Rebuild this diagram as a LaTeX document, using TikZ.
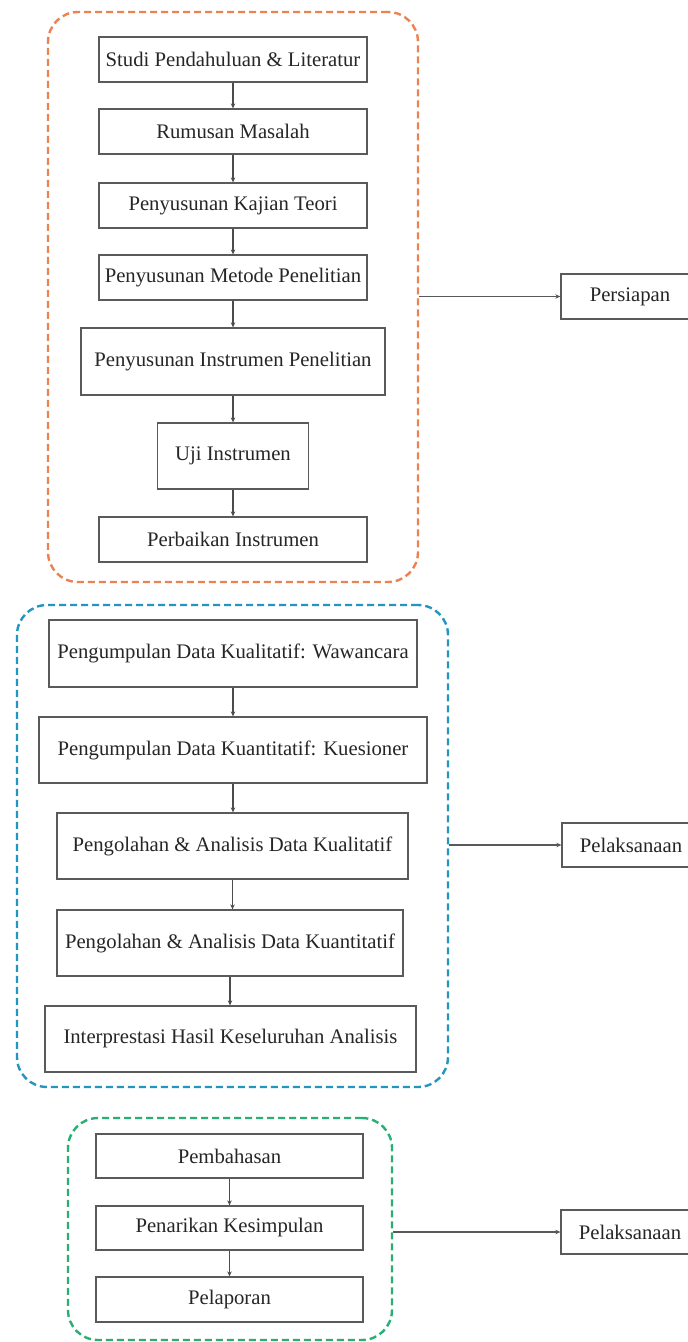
\documentclass[tikz,border=0pt]{standalone}
\usepackage{fontspec}
\setmainfont{Liberation Serif}
\usetikzlibrary{arrows.meta}
\definecolor{frOrange}{RGB}{236,130,80}
\definecolor{frBlue}{RGB}{34,150,190}
\definecolor{frGreen}{RGB}{40,175,115}
\definecolor{boxGray}{RGB}{90,90,90}
\begin{document}
\begin{tikzpicture}[x=1pt,y=-1pt,
  stepbox/.style={draw=boxGray,line width=1.3pt,inner sep=0pt,align=center,
    font=\fontsize{20.7}{24}\selectfont,text=black!85},
  frame/.style={dashed,line width=2.4pt,dash pattern=on 7pt off 4pt,rounded corners=30pt,inner sep=0pt},
  conn/.style={draw=black!70,line width=1.4pt,-{Stealth[length=5pt,width=4.5pt]}},
  link/.style={draw=black!65,line width=1.6pt,-{Stealth[length=5pt,width=4.5pt]}}]
\useasboundingbox (0,0) rectangle (688,1342);
\fill[white] (0,0) rectangle (688,1342);
% Persiapan group
\node[frame,draw=frOrange,minimum width=370pt,minimum height=570pt] (gA) at (233,297) {};
\node[stepbox,minimum width=268pt,minimum height=45pt] (s1) at (233,59.5) {Studi Pendahuluan \& Literatur};
\node[stepbox,minimum width=268pt,minimum height=45pt] (s2) at (233,131.5) {Rumusan Masalah};
\node[stepbox,minimum width=268pt,minimum height=45pt] (s3) at (233,205.5) {Penyusunan Kajian Teori};
\node[stepbox,minimum width=268pt,minimum height=45pt] (s4) at (233,277.5) {Penyusunan Metode Penelitian};
\node[stepbox,minimum width=304pt,minimum height=67pt] (s5) at (233,361.5) {Penyusunan Instrumen Penelitian};
\node[stepbox,minimum width=151pt,minimum height=66pt] (s6) at (233,456) {Uji Instrumen};
\node[stepbox,minimum width=268pt,minimum height=45pt] (s7) at (233,539.5) {Perbaikan Instrumen};
\node[stepbox,minimum width=138pt,minimum height=45pt] (pA) at (630,296.5) {Persiapan};
\foreach \a/\b in {s1/s2,s2/s3,s3/s4,s4/s5,s5/s6,s6/s7} \draw[conn] (\a.south) -- (\a.south |- \b.north);
\draw[link] (pA.west -| gA.east) -- (pA.west);
% Pelaksanaan group
\node[frame,draw=frBlue,minimum width=431pt,minimum height=482pt] (gB) at (232.5,846) {};
\node[stepbox,minimum width=368pt,minimum height=67pt] (b1) at (233,653.5) {Pengumpulan Data Kualitatif: Wawancara};
\node[stepbox,minimum width=388pt,minimum height=66pt] (b2) at (233,750) {Pengumpulan Data Kuantitatif: Kuesioner};
\node[stepbox,minimum width=351pt,minimum height=66pt] (b3) at (232.5,846) {Pengolahan \& Analisis Data Kualitatif};
\node[stepbox,minimum width=346pt,minimum height=66pt] (b4) at (230,943) {Pengolahan \& Analisis Data Kuantitatif};
\node[stepbox,minimum width=371pt,minimum height=66pt] (b5) at (230.5,1039) {Interprestasi Hasil Keseluruhan Analisis};
\node[stepbox,minimum width=138pt,minimum height=44pt] (pB) at (631,845) {Pelaksanaan};
\foreach \a/\b in {b1/b2,b2/b3,b3/b4,b4/b5} \draw[conn] (\a.south) -- (\a.south |- \b.north);
\draw[link] (pB.west -| gB.east) -- (pB.west);
% Final group
\node[frame,draw=frGreen,minimum width=324pt,minimum height=222pt] (gC) at (230,1229) {};
\node[stepbox,minimum width=267pt,minimum height=44pt] (g1) at (229.5,1156) {Pembahasan};
\node[stepbox,minimum width=267pt,minimum height=44pt] (g2) at (229.5,1228) {Penarikan Kesimpulan};
\node[stepbox,minimum width=267pt,minimum height=45pt] (g3) at (229.5,1299.5) {Pelaporan};
\node[stepbox,minimum width=138pt,minimum height=44pt] (pC) at (630,1232) {Pelaksanaan};
\foreach \a/\b in {g1/g2,g2/g3} \draw[conn] (\a.south) -- (\a.south |- \b.north);
\draw[link] (pC.west -| gC.east) -- (pC.west);
\end{tikzpicture}
\end{document}
